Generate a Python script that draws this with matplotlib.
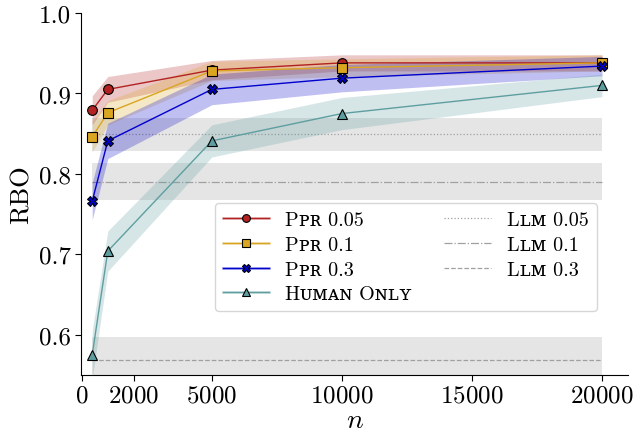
import numpy as np
import matplotlib
matplotlib.use("Agg")
import matplotlib.pyplot as plt
from matplotlib.lines import Line2D

plt.rcParams['font.family'] = ['cmr10', 'DejaVu Serif', 'DejaVu Sans']
plt.rcParams['mathtext.fontset'] = 'cm'
plt.rcParams['axes.formatter.use_mathtext'] = True

# sample sizes
n_values = [400, 1000, 5000, 10000, 20000]

# PPR runs: mean RBO and half-width of the confidence band
ppr_005 = [0.879, 0.905, 0.929, 0.938, 0.938]
ppr_005_err = [0.018, 0.016, 0.012, 0.010, 0.010]
ppr_01 = [0.846, 0.876, 0.928, 0.932, 0.938]
ppr_01_err = [0.019, 0.015, 0.012, 0.011, 0.010]
ppr_03 = [0.766, 0.841, 0.905, 0.919, 0.934]
ppr_03_err = [0.023, 0.022, 0.019, 0.017, 0.012]
human_only = [0.575, 0.704, 0.841, 0.875, 0.910]
human_only_err = [0.030, 0.025, 0.020, 0.020, 0.014]

# LLM-only baselines (constant in n)
llm_levels = ['0.05', '0.1', '0.3']
llm_mean = [0.849, 0.790, 0.569]
llm_err = [0.0205, 0.023, 0.028]
llm_styles = [':', '-.', '--']

ppr_series = [
    ('Pᴘʀ 0.05', ppr_005, ppr_005_err, '#B22222', 'o'),
    ('Pᴘʀ 0.1', ppr_01, ppr_01_err, '#DAA520', 's'),
    ('Pᴘʀ 0.3', ppr_03, ppr_03_err, '#0000CC', 'X'),
    ('Hᴜᴍᴀɴ Oɴʟʏ', human_only, human_only_err, '#5F9EA0', '^'),
]

fig = plt.figure(figsize=(6.34, 4.35), dpi=100)
ax = fig.add_axes([81 / 634, 59 / 435, 547 / 634, 362 / 435])

x = np.array(n_values)

# gray bands + lines for the llm baselines
llm_handles = []
llm_labels = []
for level, m, e, ls in zip(llm_levels, llm_mean, llm_err, llm_styles):
    y = np.full(len(x), m)
    ax.fill_between(x, y - e, y + e, color='gray', alpha=0.2, linewidth=0, zorder=1)
    h, = ax.plot(x, y, linestyle=ls, color='#a0a0a0', linewidth=0.9, zorder=2)
    llm_handles.append(h)
    llm_labels.append(f'Lʟᴍ {level}')

ppr_handles = []
ppr_labels = []
for label, y, err, color, marker in ppr_series:
    y = np.array(y)
    err = np.array(err)
    ax.fill_between(x, y - err, y + err, color=color, alpha=0.25, linewidth=0, zorder=3)
    h, = ax.plot(x, y, color=color, linewidth=1.0, marker=marker, markersize=7,
                 markerfacecolor=color, markeredgecolor='black', markeredgewidth=0.8,
                 zorder=4)
    # legend entry: faint band behind the line
    band = Line2D([], [], color=color, linewidth=2, alpha=0.3)
    ppr_handles.append((band, h))
    ppr_labels.append(label)

ax.set_xlim(-30, 21000)
ax.set_ylim(0.55, 1.0)
ax.set_xticks([0, 2000, 5000, 10000, 15000, 20000])
ax.set_yticks([0.6, 0.7, 0.8, 0.9, 1.0])
ax.set_yticklabels(['0.6', '0.7', '0.8', '0.9', '1.0'])
ax.tick_params(labelsize=18, length=4, width=0.8, pad=3)
ax.spines['top'].set_visible(False)
ax.spines['right'].set_visible(False)

ax.set_xlabel('$n$', fontsize=20, labelpad=0)
ax.set_ylabel('RBO', fontsize=19, labelpad=4)

handles = ppr_handles + llm_handles + [Line2D([], [], linestyle='none')]
labels = ppr_labels + llm_labels + ['']
ax.legend(handles, labels, ncol=2, fontsize=14.5, loc='upper right',
          bbox_to_anchor=(0.961, 0.503), columnspacing=1.6, handlelength=2.3,
          borderpad=0.4, labelspacing=0.33, markerscale=0.8)

plt.savefig('out.png', dpi=100)
plt.close()
